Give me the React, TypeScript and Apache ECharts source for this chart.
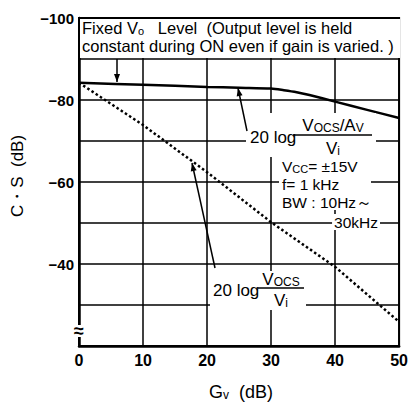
import React, { useEffect, useRef } from "react";
import * as echarts from "echarts";

// ---- data ----
const xTicks = [0, 10, 20, 30, 40, 50];
const yTickLabels = [-100, -80, -60, -40];
// 20 log (Vocs/Av)/Vi  (solid)
const solidGv = [0, 10, 20, 25, 30, 32, 34, 36, 40, 45, 50];
const solidCs = [-84.2, -83.7, -83.2, -83.0, -82.8, -82.4, -81.9, -81.2, -79.6, -77.6, -75.6];
// 20 log Vocs/Vi  (dotted)
const dottedGv = [0, 10, 20, 30, 40, 50];
const dottedCs = [-84.2, -73.9, -62.4, -50.2, -39.3, -25.9];

const FONT = "'Liberation Sans', Arial, sans-serif";
const TICK_FONT = "'Liberation Sans Narrow', 'Liberation Sans', Arial, sans-serif";

function arrowHead(x1: number, y1: number, x2: number, y2: number, len = 8, half = 3) {
  const dx = x2 - x1, dy = y2 - y1;
  const L = Math.hypot(dx, dy);
  const ux = dx / L, uy = dy / L;
  const bx = x2 - ux * len, by = y2 - uy * len;
  return [
    [x2, y2],
    [bx - uy * half, by + ux * half],
    [bx + uy * half, by - ux * half],
  ];
}

function txt(x: number, y: number, text: string, opts: any = {}) {
  const align = opts.align || "left";
  const fs = opts.fontSize || 17;
  return {
    type: "text",
    x,
    y,
    z: 60,
    rotation: opts.rotation || 0,
    style: {
      text,
      fill: "#000",
      fontFamily: FONT,
      fontSize: fs,
      fontWeight: opts.fontWeight || "normal",
      lineHeight: opts.lineHeight,
      align,
      textAlign: align,
      verticalAlign: "middle",
      textVerticalAlign: "middle",
      backgroundColor: opts.bg,
      padding: opts.padding,
      rich: {
        s: {
          fontSize: Math.round(fs * 0.68),
          verticalAlign: "bottom",
          fontFamily: FONT,
          fill: "#000",
          lineHeight: opts.lineHeight,
        },
      },
    },
  };
}

function line(x1: number, y1: number, x2: number, y2: number, w = 1.5) {
  return { type: "line", z: 60, shape: { x1, y1, x2, y2 }, style: { stroke: "#000", lineWidth: w } };
}
function rect(x: number, y: number, width: number, height: number) {
  return { type: "rect", z: 55, shape: { x, y, width, height }, style: { fill: "#fff" } };
}
function arrowLine(x1: number, y1: number, x2: number, y2: number) {
  return [
    line(x1, y1, x2, y2, 1.5),
    { type: "polygon", z: 61, shape: { points: arrowHead(x1, y1, x2, y2) }, style: { fill: "#000" } },
  ];
}

export default function App() {
  const ref = useRef<HTMLDivElement>(null);
  useEffect(() => {
    if (!ref.current) return;
    const chart = echarts.init(ref.current, undefined, { renderer: "svg" });
    const cond = { fontSize: 15.5, lineHeight: 16 };
    const graphic: any[] = [
      // header box
      rect(80, 19, 320, 39),
      txt(82, 28, "Fixed V{s|o}   Level  (Output level is held", { fontSize: 16.5 }),
      txt(82, 46, "constant during ON even if gain is varied. )", { fontSize: 16.5 }),
      ...arrowLine(117, 59, 117, 82),
      // label 1
      rect(246, 113, 130, 44),
      txt(250, 137, "20 log"),
      txt(333, 125, "V{s|OCS}/A{s|V}", { align: "center" }),
      line(293, 135, 372, 135),
      txt(333, 148, "V{s|i}", { align: "center" }),
      ...arrowLine(247, 131, 238, 88),
      // conditions
      rect(279, 157, 92, 53),
      txt(282, 166, "V{s|CC}= ±15V", cond),
      txt(282, 184, "f= 1 kHz", cond),
      txt(282, 202, "BW : 10Hz～", cond),
      txt(380, 222, "30kHz", { ...cond, align: "right", bg: "#fff", padding: [0, 2] }),
      // label 2
      rect(210, 271, 96, 39),
      txt(213, 290, "20 log"),
      txt(281, 279, "V{s|OCS}", { align: "center" }),
      line(258, 288, 304, 288),
      txt(281, 300, "V{s|i}", { align: "center" }),
      ...arrowLine(215, 268, 192, 163),
      // axis break
      rect(74, 325, 10, 12),
      txt(79, 331, "≈", { align: "center", fontSize: 18, fontWeight: "bold" }),
      // axis names
      txt(17, 176, "C・S  (dB)", { align: "center", rotation: Math.PI / 2 }),
      txt(241, 392, "G{s|v}  (dB)", { align: "center", fontSize: 18 }),
    ];
    chart.setOption({
      animation: false,
      backgroundColor: "#fff",
      grid: {
        left: 79,
        right: 10,
        top: 18,
        bottom: 57,
        show: true,
        borderColor: "#000",
        borderWidth: 2,
      },
      xAxis: {
        type: "value",
        min: xTicks[0],
        max: xTicks[xTicks.length - 1],
        interval: 10,
        axisLine: { show: true, onZero: false, lineStyle: { color: "#000", width: 2.5 } },
        axisTick: { show: false },
        axisLabel: {
          color: "#000",
          fontFamily: TICK_FONT,
          fontWeight: "bold",
          fontSize: 16,
          margin: 6,
        },
        splitLine: { show: true, lineStyle: { color: "#000", width: 1.5 } },
      },
      yAxis: {
        type: "value",
        inverse: true,
        min: -100,
        max: -20,
        interval: 10,
        axisLine: { show: true, onZero: false, lineStyle: { color: "#000", width: 2.5 } },
        axisTick: { show: false },
        axisLabel: {
          color: "#000",
          fontFamily: TICK_FONT,
          fontWeight: "bold",
          fontSize: 15,
          margin: 5,
          formatter: (v: number) => (yTickLabels.includes(v) ? "\u2212" + Math.abs(v) : ""),
        },
        splitLine: { show: true, lineStyle: { color: "#000", width: 1.5 } },
      },
      series: [
        {
          type: "line",
          z: 5,
          smooth: 0.3,
          showSymbol: false,
          data: solidGv.map((g, i) => [g, solidCs[i]]),
          lineStyle: { color: "#000", width: 2.5 },
        },
        {
          type: "line",
          z: 5,
          showSymbol: false,
          data: dottedGv.map((g, i) => [g, dottedCs[i]]),
          lineStyle: { color: "#000", width: 2.5, type: [2.5, 2.5] },
        },
      ],
      graphic,
    });
    return () => chart.dispose();
  }, []);
  return (
    <div
      ref={ref}
      style={{ position: "absolute", left: 0, top: 0, width: 411, height: 403, background: "#fff" }}
    />
  );
}
